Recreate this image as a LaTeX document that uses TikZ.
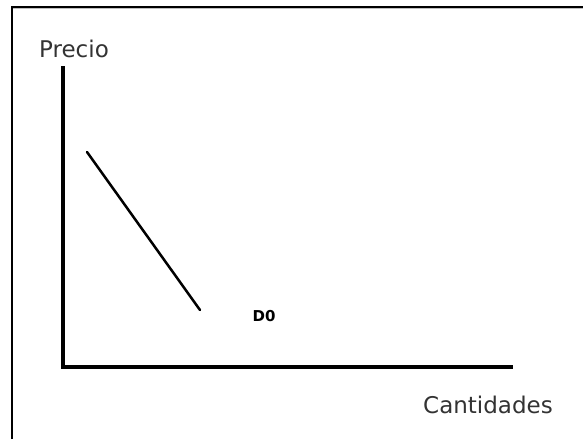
\documentclass[tikz,border=0pt]{standalone}
\usepackage{fontspec}
\setmainfont{DejaVu Sans}
\begin{document}
\begin{tikzpicture}[x=1pt, y=-1pt,
    axis/.style={line width=4pt, black},
    curve/.style={line width=2.5pt, black, line cap=round},
    lbl/.style={inner sep=0pt, font=\fontsize{23}{26}\selectfont, black!80}]
    \useasboundingbox (0,0) rectangle (583,439);
    % frame
    \draw[line width=2pt] (12,439) -- (12,6.5) -- (585,6.5);
    \draw[line width=1pt, black!25] (13,8.5) -- (585,8.5);
    % axes
    \coordinate (ytop) at (63,66);
    \coordinate (origin) at (63,367);
    \coordinate (xend) at (513,367);
    \draw[axis] (ytop) -- (origin) -- (xend);
    \node[lbl] (precio) at (74,49) {Precio};
    \node[lbl] (cant) at (488,405) {Cantidades};
    % demand
    \coordinate (d0top) at (87,152);
    \coordinate (d0bot) at (200,310);
    \draw[curve] (d0top) -- (d0bot);
    \node[inner sep=0pt, font=\fontsize{15}{17}\selectfont\bfseries] (d0) at (264,316) {D0};
\end{tikzpicture}
\end{document}
